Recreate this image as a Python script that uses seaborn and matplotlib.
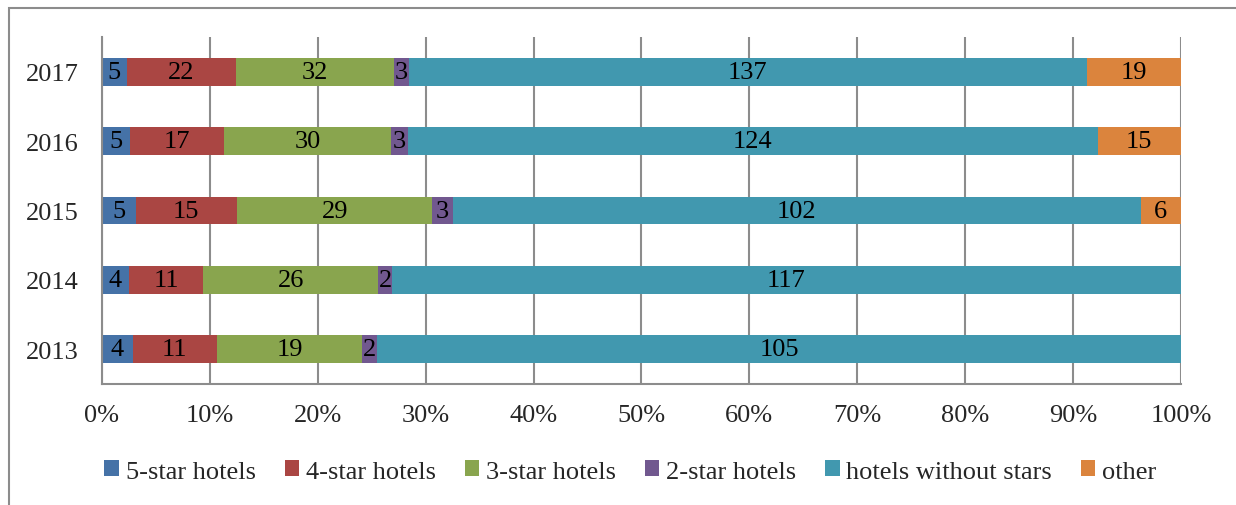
import numpy as np
import pandas as pd
import matplotlib
matplotlib.use("Agg")
import matplotlib.pyplot as plt
import seaborn as sns
from matplotlib.patches import Rectangle, Patch

# data
years = ["2013", "2014", "2015", "2016", "2017"]
five_star = [4, 4, 5, 5, 5]
four_star = [11, 11, 15, 17, 22]
three_star = [19, 26, 29, 30, 32]
two_star = [2, 2, 3, 3, 3]
no_stars = [105, 117, 102, 124, 137]
other = [0, 0, 6, 15, 19]

series_names = ["5-star hotels", "4-star hotels", "3-star hotels",
                "2-star hotels", "hotels without stars", "other"]
colors = ["#4572A7", "#AA4643", "#89A54E", "#71588F", "#4198AF", "#DB843D"]

sns.set_style("white")
plt.rcParams["font.family"] = ["Liberation Serif", "DejaVu Serif"]
fs = 19

df = pd.DataFrame({"year": years,
                   series_names[0]: five_star, series_names[1]: four_star,
                   series_names[2]: three_star, series_names[3]: two_star,
                   series_names[4]: no_stars, series_names[5]: other})
vals = df[series_names].astype(float)
pct = vals.div(vals.sum(axis=1), axis=0) * 100
cum = pct.cumsum(axis=1)

fig = plt.figure(figsize=(12.36, 5.06), dpi=100)
ax = fig.add_axes([0.0825, 0.239, 0.8730, 0.686])

order = years[::-1]
# draw cumulative bars from the last series down so each covers the next
for i in range(len(series_names) - 1, -1, -1):
    name = series_names[i]
    d = pd.DataFrame({"year": df["year"], "val": cum[name]})
    sns.barplot(data=d, x="val", y="year", order=order, color=colors[i],
                orient="h", width=0.4, saturation=1, ax=ax, zorder=2,
                edgecolor="none")

# segment labels
for r, y in enumerate(df["year"]):
    ypos = order.index(y)
    for name in series_names:
        v = df.loc[r, name]
        if v == 0:
            continue
        xc = cum.loc[r, name] - pct.loc[r, name] / 2
        ax.text(xc, ypos, str(v), ha="center", va="center",
                fontsize=fs, color="black", zorder=3)

ax.set_xlim(0, 100)
ax.set_ylim(4.5, -0.5)
ax.set_xticks(np.arange(0, 101, 10))
ax.set_xticklabels([f"{t}%" for t in range(0, 101, 10)])
ax.xaxis.grid(True, color="#8C8C8C", linewidth=1.5, zorder=0)
ax.set_axisbelow(True)
ax.set_xlabel("")
ax.set_ylabel("")
ax.tick_params(axis="x", length=0, pad=14, labelsize=fs)
ax.tick_params(axis="y", length=0, pad=17, labelsize=fs)
for s in ["top", "right"]:
    ax.spines[s].set_visible(False)
for s in ["left", "bottom"]:
    ax.spines[s].set_color("#8C8C8C")
    ax.spines[s].set_linewidth(1.5)

handles = [Patch(facecolor=c, edgecolor="none") for c in colors]
fig.legend(handles, series_names, loc="center", ncol=6,
           bbox_to_anchor=(0.51, 0.066), frameon=False, fontsize=fs,
           handlelength=0.55, handleheight=0.55, handletextpad=0.25,
           columnspacing=1.1)

# outer chart frame (cut at right and bottom)
fig.patches.append(Rectangle((8.5 / 1236, -0.1), 1.2, 1.1 - 8.5 / 506,
                             transform=fig.transFigure, fill=False,
                             edgecolor="#8C8C8C", linewidth=1.5))

fig.savefig("out.png", dpi=100)
